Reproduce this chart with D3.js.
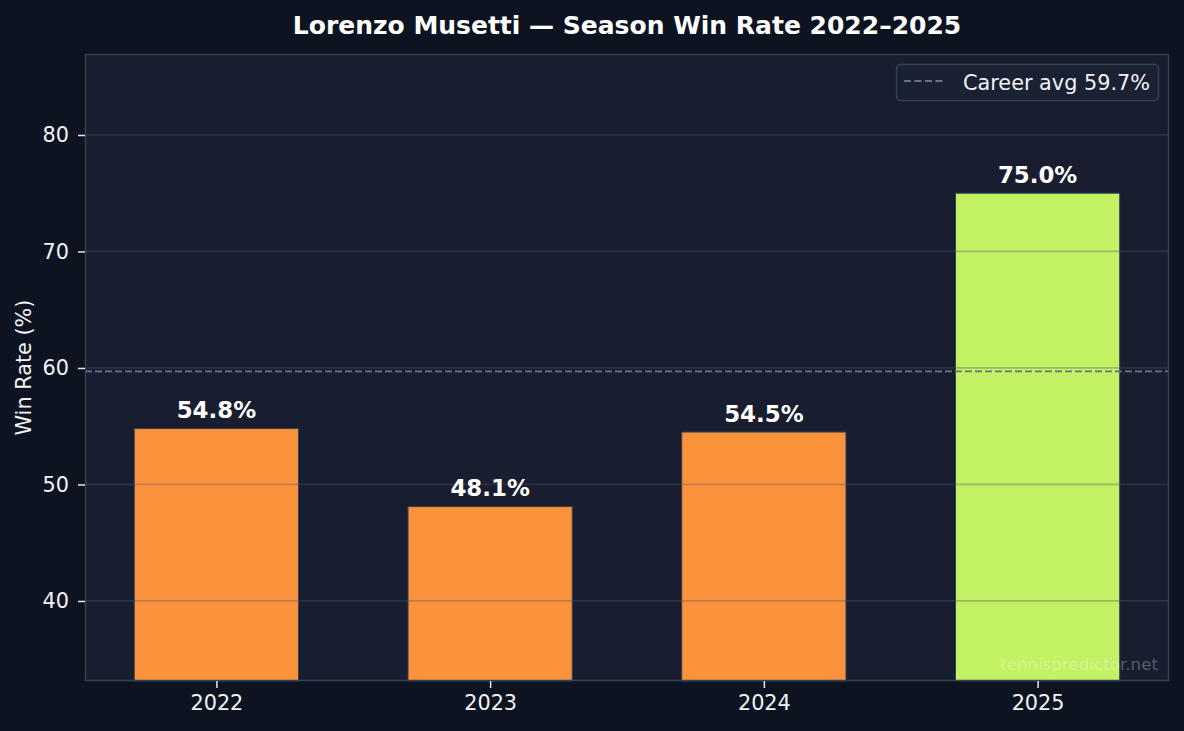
<!DOCTYPE html>
<html><head><meta charset="utf-8">
<script src="https://cdn.jsdelivr.net/npm/d3@7"></script>
<style>html,body{margin:0;padding:0;background:#0d1321;}svg{display:block;}</style>
</head><body>
<script>
const seasons = ["2022", "2023", "2024", "2025"];
const winRates = [54.8, 48.1, 54.5, 75.0];
const barColors = ["#fb923c", "#fb923c", "#fb923c", "#c2f164"];
const careerAvg = 59.7;
const yTicks = [40, 50, 60, 70, 80];
const titleText = "Lorenzo Musetti — Season Win Rate 2022–2025";
const yLabel = "Win Rate (%)";
const legendLabel = "Career avg 59.7%";
const watermark = "tennispredictor.net";

const W = 1184, H = 731;
const m = {left: 85, right: 1169, top: 54, bottom: 681};
const svg = d3.select("body").append("svg").attr("width", W).attr("height", H);
svg.append("rect").attr("width", W).attr("height", H).attr("fill", "#0d1321");

const x = d3.scaleLinear().domain([-0.48, 3.48]).range([m.left, m.right]);
const y = d3.scaleLinear().domain([33.13, 86.95]).range([m.bottom, m.top]);
const barW = x(0.6) - x(0);

svg.append("rect").attr("x", m.left).attr("y", m.top)
  .attr("width", m.right - m.left).attr("height", m.bottom - m.top).attr("fill", "#181e2f");

const font = "DejaVu Sans, sans-serif";

// bars
svg.append("g").selectAll("rect").data(winRates).join("rect")
  .attr("x", (d, i) => x(i) - barW / 2)
  .attr("y", d => y(d))
  .attr("width", barW)
  .attr("height", d => y(y.domain()[0]) - y(d))
  .attr("fill", (d, i) => barColors[i])
  .attr("stroke", "#334155").attr("stroke-width", 1);

// grid on top
svg.append("g").selectAll("line").data(yTicks).join("line")
  .attr("x1", m.left).attr("x2", m.right)
  .attr("y1", d => y(d)).attr("y2", d => y(d))
  .attr("stroke", "#4b5567").attr("stroke-opacity", 0.35).attr("stroke-width", 1.7);

// career avg line
svg.append("line").attr("x1", m.left).attr("x2", m.right)
  .attr("y1", y(careerAvg)).attr("y2", y(careerAvg))
  .attr("stroke", "#64748b").attr("stroke-width", 1.8).attr("stroke-dasharray", "7,3");

// value labels
svg.append("g").selectAll("text").data(winRates).join("text")
  .attr("x", (d, i) => x(i)).attr("y", d => y(d) - 10.5)
  .attr("text-anchor", "middle").attr("font-family", font).attr("font-weight", "bold")
  .attr("font-size", 22.9).attr("fill", "#ffffff")
  .text(d => d.toFixed(1) + "%");

// axes border
svg.append("rect").attr("x", m.left + 0.5).attr("y", m.top + 0.5)
  .attr("width", m.right - m.left - 1).attr("height", m.bottom - m.top - 1)
  .attr("fill", "none").attr("stroke", "#334155").attr("stroke-width", 1.5);

// y axis
const yAxis = d3.axisLeft(y).tickValues(yTicks).tickSize(7).tickPadding(9).tickFormat(d3.format("d"));
const gy = svg.append("g").attr("transform", `translate(${m.left},0)`).call(yAxis);
gy.select(".domain").remove();
gy.selectAll(".tick line").attr("stroke", "#e5e7eb").attr("stroke-width", 1.5);
gy.selectAll(".tick text").attr("fill", "#f1f3f5").attr("font-family", font).attr("font-size", 20.8);

// x axis
const xAxis = d3.axisBottom(x).tickValues([0, 1, 2, 3]).tickSize(7).tickPadding(7).tickFormat(i => seasons[i]);
const gx = svg.append("g").attr("transform", `translate(0,${m.bottom})`).call(xAxis);
gx.select(".domain").remove();
gx.selectAll(".tick line").attr("stroke", "#e5e7eb").attr("stroke-width", 1.5);
gx.selectAll(".tick text").attr("fill", "#f1f3f5").attr("font-family", font).attr("font-size", 20.8);

// y label
svg.append("text").attr("transform", `translate(31,${(m.top + m.bottom) / 2}) rotate(-90)`)
  .attr("text-anchor", "middle").attr("font-family", font).attr("font-size", 20.8)
  .attr("fill", "#f1f3f5").text(yLabel);

// title
svg.append("text").attr("x", (m.left + m.right) / 2).attr("y", 34)
  .attr("text-anchor", "middle").attr("font-family", font).attr("font-weight", "bold")
  .attr("font-size", 25).attr("fill", "#ffffff").text(titleText);

// legend
const lg = svg.append("g");
lg.append("rect").attr("x", 896.5).attr("y", 64.5).attr("width", 262).attr("height", 36)
  .attr("rx", 4).attr("fill", "#192133").attr("stroke", "#334155").attr("stroke-width", 1.5);
lg.append("line").attr("x1", 904).attr("x2", 945).attr("y1", 81).attr("y2", 81)
  .attr("stroke", "#64748b").attr("stroke-width", 1.8).attr("stroke-dasharray", "7,3.5");
lg.append("text").attr("x", 963).attr("y", 90).attr("font-family", font).attr("font-size", 20.8)
  .attr("fill", "#f1f3f5").text(legendLabel);

// watermark
svg.append("text").attr("x", 1158).attr("y", 670).attr("text-anchor", "end")
  .attr("font-family", font).attr("font-size", 16.7).attr("fill", "#ffffff").attr("fill-opacity", 0.28)
  .text(watermark);
</script>
</body></html>
